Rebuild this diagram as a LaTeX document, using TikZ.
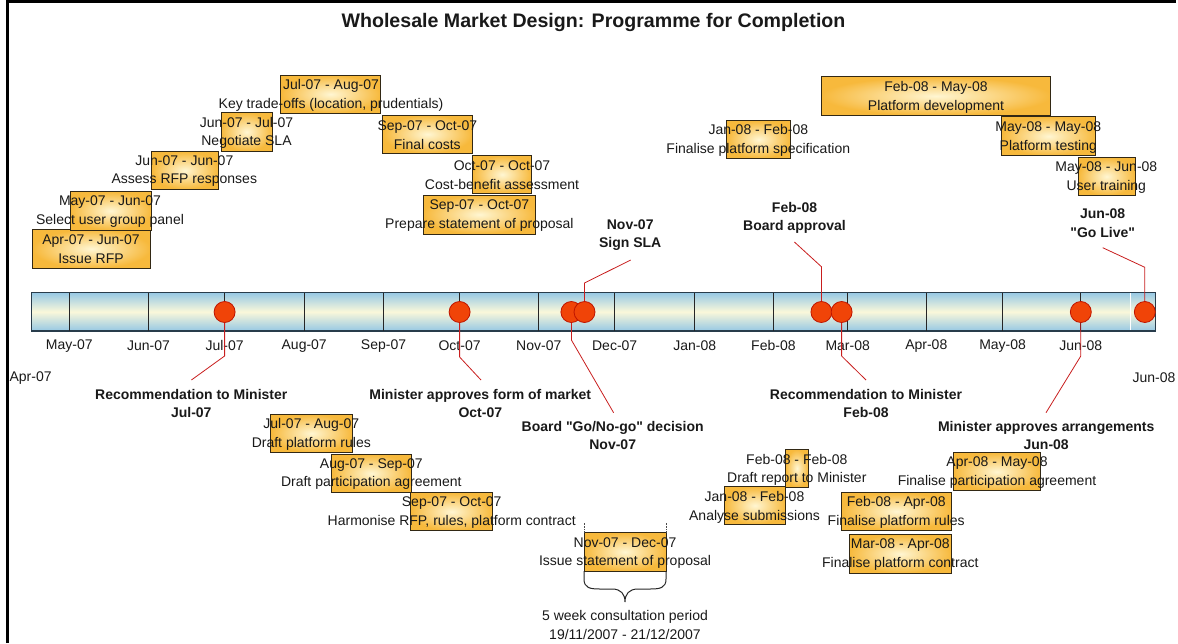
\documentclass[tikz,border=0pt]{standalone}
\usepackage{fontspec}
\setmainfont{Liberation Sans}
\definecolor{boxout}{RGB}{247,185,60}
\definecolor{boxin}{RGB}{255,246,210}
\definecolor{boxline}{RGB}{50,40,20}
\definecolor{barblue}{RGB}{150,200,228}
\definecolor{barmid}{RGB}{250,248,218}
\definecolor{barline}{RGB}{40,60,75}
\definecolor{milefill}{RGB}{240,68,8}
\definecolor{mileline}{RGB}{190,20,0}
\definecolor{connred}{RGB}{200,30,30}
\definecolor{txt}{RGB}{25,25,25}
\newcommand{\tbox}[5]{\node[taskbox, minimum width={(#4)-(#2)}, minimum height={(#5)-(#3)}] (#1) at ({((#2)+(#4))/2},{((#3)+(#5))/2}) {};}
\begin{document}
\begin{tikzpicture}[x=1pt,y=-1pt,
 taskbox/.style={draw=boxline, line width=0.9pt, inner color=boxin, outer color=boxout, inner sep=0pt, outer sep=0pt},
 tasktext/.style={align=center, font=\fontsize{14}{18.8}\selectfont, text=txt, inner sep=0pt, yshift=-1.5pt},
 mslabel/.style={align=center, font=\fontsize{14}{18.3}\selectfont\bfseries, text=txt, inner sep=0pt},
 monthlbl/.style={font=\fontsize{14}{16}\selectfont, text=txt, inner sep=0pt, yshift=-1.2pt},
 mile/.style={circle, draw=mileline, line width=0.8pt, fill=milefill, minimum size=21pt, inner sep=0pt},
 conn/.style={draw=connred, line width=0.8pt},
 divider/.style={draw=black!85, line width=0.9pt},
 timebar/.style={draw=barline, line width=1.2pt, top color=barblue, bottom color=barblue, middle color=barmid, inner sep=0pt, outer sep=0pt},
 frame/.style={draw=black, line width=3.4pt},
 bracestyle/.style={draw=black!85, line width=1pt},
]
\useasboundingbox (0,0) rectangle (1178,643);
% frame
\draw[frame] (7.5,643) -- (7.5,1.7) -- (1176,1.7);
% title
\node[font=\fontsize{19.6}{22}\selectfont\bfseries, text=txt, inner sep=0pt] (title) at (593.5,22) {Wholesale Market Design: Programme for Completion};

% timeline bar
\node[timebar, minimum width=1123.7pt, minimum height=38.5pt] (bar) at (593.25,311.75) {};
\foreach \x in {69.3,148.5,224.6,304.2,383.5,459.6,538.8,614.7,694.8,773.4,847.7,926.3,1002.6,1080.8}
  \draw[divider] (\x,292.5) -- (\x,331);
\draw[draw=white, line width=0.9pt] (1130.3,293.2) -- (1130.3,330.3);

% month labels
\foreach \x/\m in {69.3/May-07,148.5/Jun-07,224.6/Jul-07,304.2/Aug-07,383.5/Sep-07,459.6/Oct-07,538.8/Nov-07,614.7/Dec-07,694.8/Jan-08,773.4/Feb-08,847.7/Mar-08,926.3/Apr-08,1002.6/May-08,1080.8/Jun-08}
  \node[monthlbl] at (\x,344.5) {\m};
\node[monthlbl] (apr07) at (30.6,376.7) {Apr-07};
\node[monthlbl] (jun08) at (1154,376.7) {Jun-08};

% milestones
\node[mile] (m1) at (224.6,312) {};
\node[mile] (m2) at (459.6,312) {};
\node[mile] (m3) at (571.4,312) {};
\node[mile] (m4) at (584.5,312) {};
\node[mile] (m5) at (821.4,312) {};
\node[mile] (m6) at (841.6,312) {};
\node[mile] (m7) at (1080.8,312) {};
\node[mile] (m8) at (1144.8,312) {};

% milestone labels
\node[mslabel] (l1) at (191.3,403.3) {Recommendation to Minister\\Jul-07};
\node[mslabel] (l2) at (480.3,403.3) {Minister approves form of market\\Oct-07};
\node[mslabel] (l3) at (612.7,435.2) {Board \textquotedbl Go/No-go\textquotedbl{} decision\\Nov-07};
\node[mslabel] (l4) at (630.2,235.3) {Nov-07\\Sign SLA};
\node[mslabel] (l5) at (794.5,218.2) {Feb-08\\Board approval};
\node[mslabel] (l6) at (866,403.3) {Recommendation to Minister\\Feb-08};
\node[mslabel] (l7) at (1046.2,435.3) {Minister approves arrangements\\Jun-08};
\node[mslabel] (l8) at (1102.7,223.3) {Jun-08\\\textquotedbl Go Live\textquotedbl};

% connector ends
\coordinate (e1) at (191.4,380);
\coordinate (e2) at (481,380);
\coordinate (e3) at (613.6,412.7);
\coordinate (e4) at (630.7,260);
\coordinate (e5) at (794.4,242);
\coordinate (e6) at (866,380);
\coordinate (e7) at (1046,412.7);
\coordinate (e8) at (1102.7,247.7);

\draw[conn] (m1.south) -- (224.6,356) -- (e1);
\draw[conn] (m2.south) -- (459.6,357) -- (e2);
\draw[conn] (m3.south) -- (571.4,340) -- (e3);
\draw[conn] (m4.north) -- (584.5,283) -- (e4);
\draw[conn] (m5.north) -- (821.4,266.7) -- (e5);
\draw[conn] (m6.south) -- (841.6,356) -- (e6);
\draw[conn] (m7.south) -- (1080.8,356) -- (e7);
\draw[conn] (m8.north) -- (1144.8,267.3) -- (e8);

% task boxes
\tbox{b1}{32.7}{229.3}{150.3}{268.3}
\tbox{b2}{70}{191.7}{151.7}{230}
\tbox{b3}{151.7}{151.7}{218.3}{189.3}
\tbox{b4}{221}{112.7}{272.3}{151}
\tbox{b5}{280.7}{75}{380.7}{113.3}
\tbox{b6}{382.7}{115}{472.3}{153.3}
\tbox{b7}{472.7}{155.7}{531.7}{193.3}
\tbox{b8}{423.3}{195}{535.7}{234}
\tbox{b9}{726.7}{120.7}{790.7}{158.3}
\tbox{b10}{821.3}{76.7}{1050.7}{115.3}
\tbox{b11}{1001.7}{116.7}{1095.7}{155.7}
\tbox{b12}{1078.3}{157.3}{1135}{195.7}
\tbox{b13}{270.7}{414.3}{352.3}{452.3}
\tbox{b14}{331.7}{454.3}{411}{492.3}
\tbox{b15}{410.7}{492.7}{492.7}{530.7}
\tbox{b16}{584}{532.7}{666}{571}
\tbox{b17}{785.7}{449.3}{808.3}{487.3}
\tbox{b18}{724.3}{486.7}{785.7}{524.3}
\tbox{b19}{953.3}{452.7}{1040.7}{490.7}
\tbox{b20}{841.7}{492.3}{951.7}{530.3}
\tbox{b21}{849}{534.3}{951.7}{573.3}

% task texts
\node[tasktext] (t1) at (91,248) {Apr-07 - Jun-07\\Issue RFP};
\node[tasktext] (t2) at (110,210) {May-07 - Jun-07\\Select user group panel};
\node[tasktext] (t3) at (184.3,169.5) {Jun-07 - Jun-07\\Assess RFP responses};
\node[tasktext] (t4) at (246.5,131.3) {Jun-07 - Jul-07\\Negotiate SLA};
\node[tasktext] (t5) at (331,93.7) {Jul-07 - Aug-07\\Key trade-offs (location, prudentials)};
\node[tasktext] (t6) at (427.3,133.3) {Sep-07 - Oct-07\\Final costs};
\node[tasktext] (t7) at (502,173.8) {Oct-07 - Oct-07\\Cost-benefit assessment};
\node[tasktext] (t8) at (479.4,214.2) {Sep-07 - Oct-07\\Prepare statement of proposal};
\node[tasktext] (t9) at (758.3,139.2) {Jan-08 - Feb-08\\Finalise platform specification};
\node[tasktext] (t10) at (936,95.8) {Feb-08 - May-08\\Platform development};
\node[tasktext] (t11) at (1048.3,135.7) {May-08 - May-08\\Platform testing};
\node[tasktext] (t12) at (1106.3,175.7) {May-08 - Jun-08\\User training};
\node[tasktext] (t13) at (311.3,432.8) {Jul-07 - Aug-07\\Draft platform rules};
\node[tasktext] (t14) at (371.3,472.5) {Aug-07 - Sep-07\\Draft participation agreement};
\node[tasktext] (t15) at (451.7,510.8) {Sep-07 - Oct-07\\Harmonise RFP, rules, platform contract};
\node[tasktext] (t16) at (625,551.5) {Nov-07 - Dec-07\\Issue statement of proposal};
\node[tasktext] (t17) at (796.8,468.3) {Feb-08 - Feb-08\\Draft report to Minister};
\node[tasktext] (t18) at (754.5,505.7) {Jan-08 - Feb-08\\Analyse submissions};
\node[tasktext] (t19) at (997,470.7) {Apr-08 - May-08\\Finalise participation agreement};
\node[tasktext] (t20) at (896.2,510.8) {Feb-08 - Apr-08\\Finalise platform rules};
\node[tasktext] (t21) at (900.3,553.2) {Mar-08 - Apr-08\\Finalise platform contract};

% consultation brace
\draw[black!70, line width=0.6pt, densely dotted] (b16.north west) -- ++(0,-10);
\draw[black!70, line width=0.6pt, densely dotted] (b16.north east) -- ++(0,-10);
\draw[bracestyle] (b16.south west) -- (584,579) .. controls (584,588) and (590,589) .. (600,589) -- (612,589) .. controls (621,589) and (625,594) .. (625,602) .. controls (625,594) and (629,589) .. (638,589) -- (650,589) .. controls (660,589) and (666,588) .. (666,579) -- (b16.south east);
\node[tasktext] (cons) at (625,623.5) {5 week consultation period\\19/11/2007 - 21/12/2007};
\end{tikzpicture}
\end{document}
